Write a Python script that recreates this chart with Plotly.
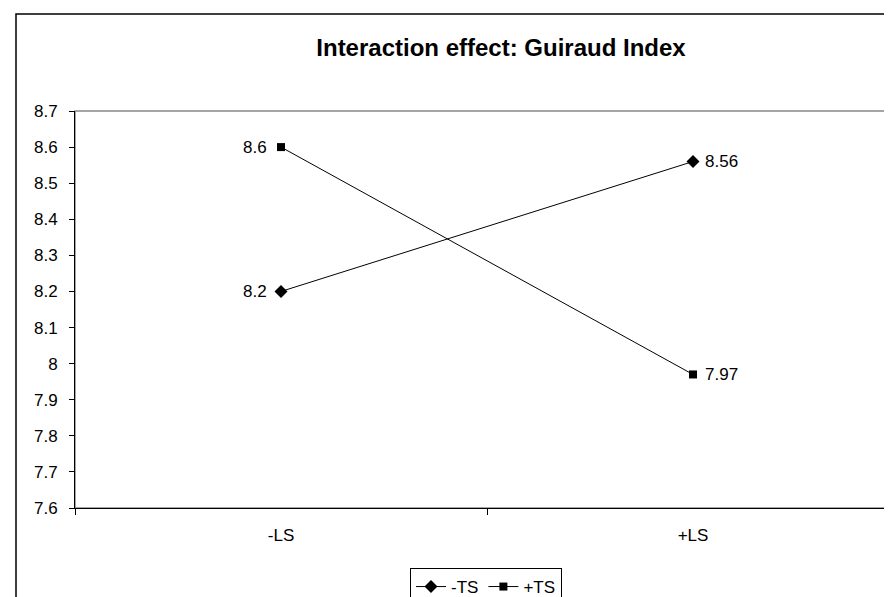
import plotly.graph_objects as go

categories = ["-LS", "+LS"]
minus_ts = [8.2, 8.56]
plus_ts = [8.6, 7.97]
minus_ts_labels = ["8.2", "8.56"]
plus_ts_labels = ["8.6", "7.97"]
y_ticks = [7.6, 7.7, 7.8, 7.9, 8.0, 8.1, 8.2, 8.3, 8.4, 8.5, 8.6, 8.7]
y_tick_text = ["7.6", "7.7", "7.8", "7.9", "8", "8.1", "8.2", "8.3", "8.4", "8.5", "8.6", "8.7"]

FONT = "Liberation Sans, Arial, sans-serif"
W, H = 892, 597
L, R, T, B = 67, 1, 103, 97
pw, ph = W - L - R, H - T - B

def px(x):
    return (x - L) / pw

def py(y):
    return (H - B - y) / ph

fig = go.Figure()
fig.add_trace(go.Scatter(
    x=categories, y=minus_ts, name="-TS", mode="lines+markers",
    line=dict(color="black", width=1),
    marker=dict(symbol="diamond", size=10, color="black"),
))
fig.add_trace(go.Scatter(
    x=categories, y=plus_ts, name="+TS", mode="lines+markers",
    line=dict(color="black", width=1),
    marker=dict(symbol="square", size=8, color="black"),
))

annotations = []
for ys, labels in ((minus_ts, minus_ts_labels), (plus_ts, plus_ts_labels)):
    for i, (c, v, t) in enumerate(zip(categories, ys, labels)):
        left = i == 0
        annotations.append(dict(
            x=c, y=v, xref="x", yref="y", text=t, showarrow=False,
            xanchor="right" if left else "left", yanchor="middle",
            xshift=-12 if left else 10,
            font=dict(family=FONT, size=17, color="black"),
        ))

fig.update_layout(
    width=W, height=H,
    margin=dict(l=L, r=R, t=T, b=B, autoexpand=False),
    paper_bgcolor="white", plot_bgcolor="white",
    font=dict(family=FONT, size=17, color="black"),
    title=dict(text="<b>Interaction effect: Guiraud Index</b>",
               font=dict(family=FONT, size=24, color="black"),
               x=493 / W, xanchor="center", xref="container",
               y=1 - 40 / H, yanchor="middle", yref="container"),
    showlegend=True,
    legend=dict(orientation="h", x=px(478), xanchor="center", y=py(560), yanchor="top",
                bordercolor="black", borderwidth=1, bgcolor="white",
                font=dict(family=FONT, size=17, color="black"),
                itemwidth=30, tracegroupgap=0),
    xaxis=dict(type="category", range=[-0.5, 1.5], showgrid=False, zeroline=False,
               automargin=False,
               showline=True, linecolor="black", linewidth=1,
               ticks="outside", tickson="boundaries", ticklen=6, tickcolor="black",
               ticklabelstandoff=12,
               tickfont=dict(family=FONT, size=17, color="black")),
    yaxis=dict(range=[7.6, 8.7], tickvals=y_ticks, ticktext=y_tick_text,
               showgrid=False, zeroline=False, automargin=False,
               showline=True, linecolor="black", linewidth=1,
               ticks="outside", ticklen=5, tickcolor="black",
               ticklabelstandoff=8,
               tickfont=dict(family=FONT, size=17, color="black")),
    annotations=annotations,
    shapes=[
        dict(type="rect", xref="paper", yref="paper", x0=0, x1=1, y0=0, y1=1,
             line=dict(color="#888888", width=1.5), layer="below"),
        dict(type="rect", xref="paper", yref="paper",
             x0=px(8), x1=px(900), y0=py(605), y1=py(6),
             line=dict(color="black", width=1.5), layer="below"),
    ],
)

fig.write_html("out.html")
